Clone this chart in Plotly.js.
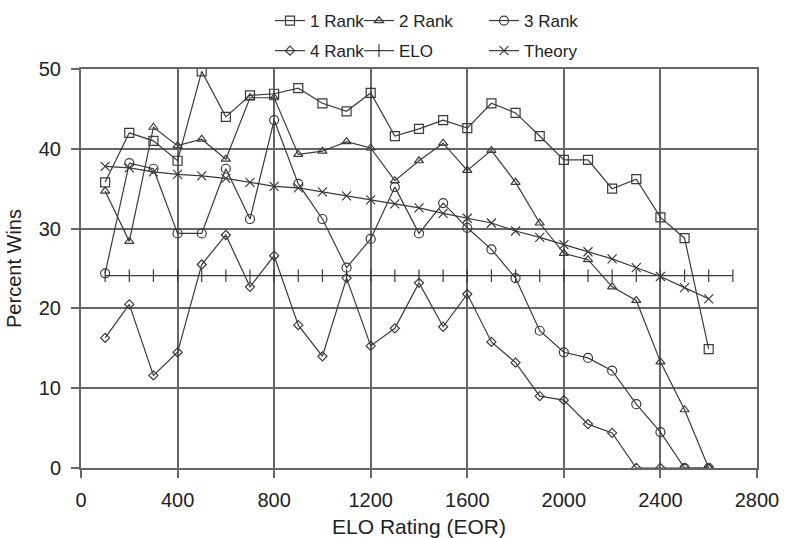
<!DOCTYPE html>
<html>
<head>
<meta charset="utf-8">
<script src="https://cdn.plot.ly/plotly-3.0.1.min.js"></script>
<style>html,body{margin:0;padding:0;background:#fff;}#chart{width:791px;height:538px;}</style>
</head>
<body>
<div id="chart"></div>
<script>
const elo = [100,200,300,400,500,600,700,800,900,1000,1100,1200,1300,1400,1500,1600,1700,1800,1900,2000,2100,2200,2300,2400,2500,2600];
const eloLine = [100,200,300,400,500,600,700,800,900,1000,1100,1200,1300,1400,1500,1600,1700,1800,1900,2000,2100,2200,2300,2400,2500,2600,2700];
const rank1 = [35.8,42.0,41.0,38.5,49.7,44.0,46.7,46.9,47.6,45.7,44.7,47.0,41.6,42.5,43.6,42.6,45.7,44.5,41.6,38.6,38.6,35.0,36.2,31.4,28.8,14.9];
const rank2 = [34.7,28.4,42.7,40.4,41.2,38.7,46.4,46.4,39.3,39.7,40.9,40.1,36.0,38.5,40.7,37.3,39.8,35.8,30.7,26.9,26.1,22.7,21.0,13.3,7.3,0];
const rank3 = [24.4,38.2,37.5,29.4,29.4,37.5,31.2,43.6,35.6,31.2,25.1,28.7,35.2,29.4,33.2,30.1,27.4,23.8,17.2,14.5,13.8,12.2,8.0,4.5,0,0];
const rank4 = [16.3,20.5,11.6,14.5,25.5,29.2,22.7,26.6,17.9,14.0,23.8,15.3,17.5,23.2,17.7,21.8,15.8,13.2,9.0,8.5,5.5,4.4,0,0,0,0];
const eloVals = [24.1,24.1,24.1,24.1,24.1,24.1,24.1,24.1,24.1,24.1,24.1,24.1,24.1,24.1,24.1,24.1,24.1,24.1,24.1,24.1,24.1,24.1,24.1,24.1,24.1,24.1,24.1];
const theory = [37.8,37.6,37.1,36.8,36.6,36.3,35.8,35.3,35.1,34.6,34.1,33.6,33.1,32.6,31.9,31.3,30.7,29.7,28.9,28.0,27.1,26.2,25.1,24.0,22.6,21.2];
const xTicks = [0,400,800,1200,1600,2000,2400,2800];
const yTicks = [0,10,20,30,40,50];

const C = '#3a3a3a';
const G = '#666666';
const FONT = 'Liberation Sans, Arial, sans-serif';
function tr(name, x, y, sym, size, legend, group) {
  return {x: x, y: y, name: name, type: 'scatter', mode: 'lines+markers',
    line: {color: C, width: 1.2},
    marker: {symbol: sym, size: size, color: C, line: {color: C, width: 1.2}},
    legend: legend, legendgroup: group};
}
const data = [
  tr('1 Rank', elo, rank1, 'square-open', 9, 'legend', 'a'),
  tr('2 Rank', elo, rank2, 'triangle-up-open', 8, 'legend2', 'b'),
  tr('3 Rank', elo, rank3, 'circle-open', 9, 'legend3', 'c'),
  tr('4 Rank', elo, rank4, 'diamond-open', 7, 'legend', 'd'),
  tr('ELO', eloLine, eloVals, 'line-ns-open', 9, 'legend2', 'e'),
  tr('Theory', elo, theory, 'x-thin-open', 9, 'legend3', 'f')
];
const legBase = {orientation: 'v', xanchor: 'left', yanchor: 'top', y: (468 - 3) / 399,
  traceorder: 'grouped', tracegroupgap: 5,
  font: {family: FONT, size: 17, color: '#222'}, bgcolor: 'rgba(0,0,0,0)', itemwidth: 30};
const layout = {
  width: 791, height: 538,
  margin: {l: 81, r: 34, t: 69, b: 70, autoexpand: false},
  paper_bgcolor: '#fff', plot_bgcolor: '#fff',
  showlegend: true,
  legend: Object.assign({}, legBase, {x: (270 - 81) / 676}),
  legend2: Object.assign({}, legBase, {x: (359 - 81) / 676}),
  legend3: Object.assign({}, legBase, {x: (484 - 81) / 676}),
  xaxis: {range: [0, 2800], tickvals: xTicks, ticktext: xTicks.map(String), showgrid: true, gridcolor: G, gridwidth: 2,
    showline: true, mirror: true, linecolor: G, linewidth: 2, zeroline: false,
    ticks: 'outside', ticklen: 8, tickcolor: G, tickwidth: 2, ticklabelstandoff: 5,
    tickfont: {family: FONT, size: 20, color: '#222'},
    title: {text: 'ELO Rating (EOR)', font: {family: FONT, size: 21, color: '#222'}}},
  yaxis: {range: [0, 50], tickvals: yTicks, ticktext: yTicks.map(String), showgrid: true, gridcolor: G, gridwidth: 2,
    showline: true, mirror: true, linecolor: G, linewidth: 2, zeroline: false,
    ticks: 'outside', ticklen: 8, tickcolor: G, tickwidth: 2, ticklabelstandoff: 6,
    tickfont: {family: FONT, size: 20, color: '#222'},
    title: {text: 'Percent Wins', font: {family: FONT, size: 20, color: '#222'}, standoff: 12}}
};
Plotly.newPlot('chart', data, layout, {displayModeBar: false, staticPlot: true});
</script>
</body>
</html>
